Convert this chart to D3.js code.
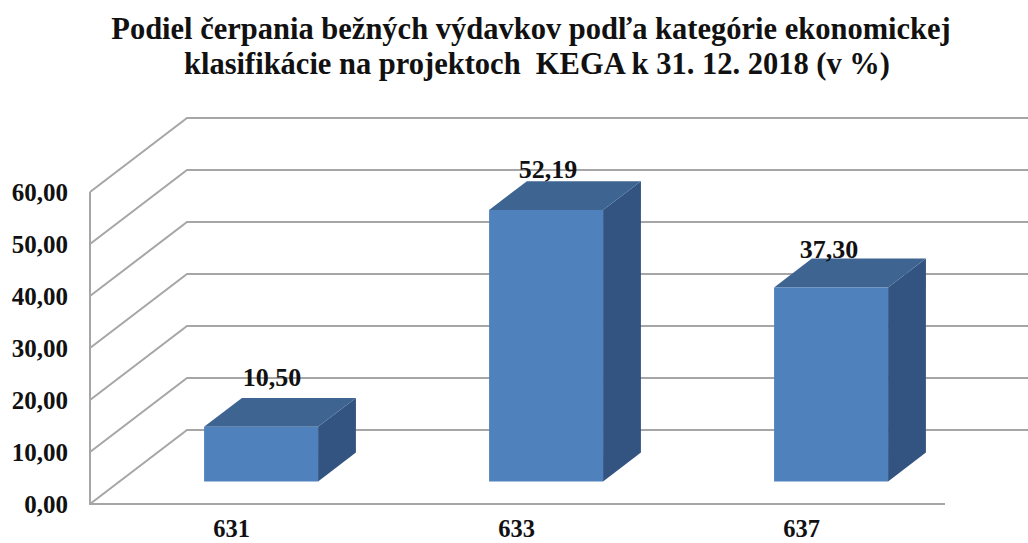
<!DOCTYPE html>
<html>
<head>
<meta charset="utf-8">
<script src="https://cdn.jsdelivr.net/npm/d3@7"></script>
<style>
  html, body { margin: 0; padding: 0; background: #fff; overflow: hidden; }
  svg { display: block; }
  text { font-family: "Liberation Serif", serif; font-weight: bold; fill: #111; }
</style>
</head>
<body>
<div id="chart"></div>
<script>
const categories = ['631', '633', '637'];
const values = [10.50, 52.19, 37.30];
const yTicks = [0, 10, 20, 30, 40, 50, 60];
const titleLines = [
    'Podiel čerpania bežných výdavkov podľa kategórie ekonomickej',
    'klasifikácie na projektoch\u00a0 KEGA k 31. 12. 2018 (v %)'
];

const WIDTH = 1028;
const HEIGHT = 543;
// how far the back wall sits from the front edge of the floor
const DEPTH_X = 97;
const DEPTH_Y = -74;
const BAR_FRONT = 0.305;
const BAR_BACK = 0.695;

const svg = d3.select('#chart').append('svg')
    .attr('width', WIDTH)
    .attr('height', HEIGHT);

const x = d3.scaleBand().domain(categories).range([89, 944]).paddingInner(0.6).paddingOuter(0.3);
const y = d3.scaleLinear().domain([0, 60]).range([504, 192]);
const band = d3.scaleBand().domain(categories).range([89, 944]);
const fmt = d3.formatLocale({decimal: ',', thousands: ' ', grouping: [3], currency: ['', '']}).format('.2f');

// 3d projection, z goes 0 (front) to 1 (back wall)
let project = function(px, py, z) {
    return [px + DEPTH_X * z, py + DEPTH_Y * z];
};
let line = d3.line();

// Title
const titleX = [531, 537];
svg.append('g').selectAll('text')
    .data(titleLines)
    .join('text')
    .attr('x', (d, i) => titleX[i])
    .attr('y', (d, i) => 39 + i * 34.5)
    .attr('text-anchor', 'middle')
    .attr('font-size', 30.5)
    .text(d => d);

// Walls and gridlines
let grid = svg.append('g')
    .attr('fill', 'none')
    .attr('stroke', '#a6a6a6')
    .attr('stroke-width', 2);

grid.selectAll('path.wall')
    .data(yTicks)
    .join('path')
    .attr('class', 'wall')
    .attr('d', d => line([
        project(90, y(d), 0),
        project(90, y(d), 1),
        project(945, y(d), 1)
    ]));

grid.append('path').attr('d', line([[90, y(60)], [90, y(0)], [945, y(0)]]));

// Axes, only the labels are visible
let yAxis = svg.append('g')
    .attr('transform', 'translate(90,0)')
    .call(d3.axisLeft(y).tickValues(yTicks).tickFormat(fmt).tickSize(0).tickPadding(22));
let xAxis = svg.append('g')
    .attr('transform', `translate(0,${y(0)})`)
    .call(d3.axisBottom(band).tickSize(0).tickPadding(16));
yAxis.select('.domain').remove();
xAxis.select('.domain').remove();
yAxis.selectAll('text').attr('font-size', 25).attr('font-family', null);
xAxis.selectAll('text').attr('font-size', 24.5).attr('font-family', null);

// Bars
let bars = svg.append('g').selectAll('g')
    .data(categories.map((c, i) => ({cat: c, value: values[i]})))
    .join('g');

let face = function(d, z0, z1, side) {
    let x0 = x(d.cat);
    let x1 = x0 + x.bandwidth();
    let yTop = y(d.value);
    let yBase = y(0);
    if (side === 'front') {
        return line([project(x0, yTop, z0), project(x1, yTop, z0), project(x1, yBase, z0), project(x0, yBase, z0)]) + 'Z';
    }
    if (side === 'top') {
        return line([project(x0, yTop, z0), project(x1, yTop, z0), project(x1, yTop, z1), project(x0, yTop, z1)]) + 'Z';
    }
    return line([project(x1, yTop, z0), project(x1, yTop, z1), project(x1, yBase, z1), project(x1, yBase, z0)]) + 'Z';
};

bars.append('path').attr('fill', '#335480').attr('d', d => face(d, BAR_FRONT, BAR_BACK, 'side'));
bars.append('path').attr('fill', '#3e6491').attr('d', d => face(d, BAR_FRONT, BAR_BACK, 'top'));
bars.append('path').attr('fill', '#4f81bd').attr('d', d => face(d, BAR_FRONT, BAR_BACK, 'front'));

// Value labels, nudged by hand because they do not follow the bars exactly
const labelNudgeX = [11, 2, -2];
const labelNudgeY = [-12, -3, -1];
bars.append('text')
    .attr('x', (d, i) => project(x(d.cat) + x.bandwidth() / 2, 0, BAR_FRONT)[0] + labelNudgeX[i])
    .attr('y', (d, i) => project(0, y(d.value), BAR_BACK)[1] + labelNudgeY[i])
    .attr('text-anchor', 'middle')
    .attr('font-size', 26)
    .text(d => fmt(d.value));
</script>
</body>
</html>
